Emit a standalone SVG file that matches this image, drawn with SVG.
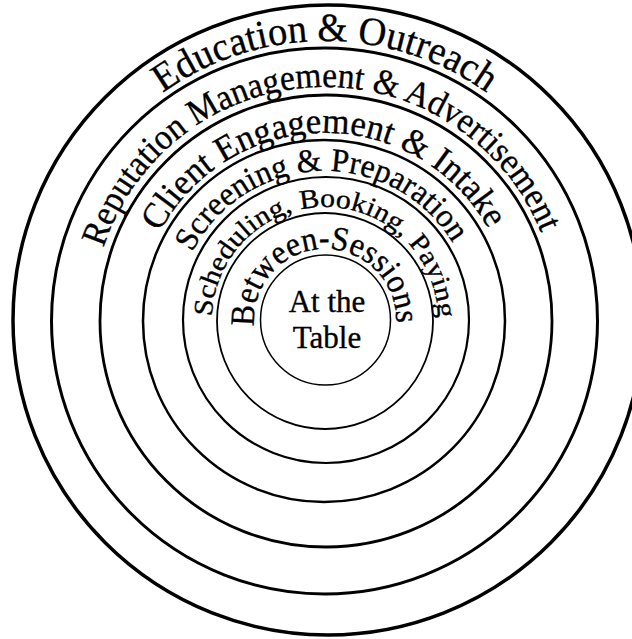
<svg xmlns="http://www.w3.org/2000/svg" xmlns:xlink="http://www.w3.org/1999/xlink" width="632" height="639" viewBox="0 0 632 639">
<style>
.ring{fill:none;stroke:#000}
.lbl{font-family:"Liberation Serif","Times New Roman",serif;fill:#000;stroke:#000;stroke-width:0.35px}
</style>
<defs>
<path id="p1" d="M325,599 A279,279 0 0 1 325,41 A279,279 0 0 1 325,599"/>
<path id="p2" d="M325,553 A233,233 0 0 1 325,87 A233,233 0 0 1 325,553"/>
<path id="p3" d="M325,507 A187,187 0 0 1 325,133 A187,187 0 0 1 325,507"/>
<path id="p4" d="M325,469 A149,149 0 0 1 325,171 A149,149 0 0 1 325,469"/>
<path id="p5" d="M325,433 A113,113 0 0 1 325,207 A113,113 0 0 1 325,433"/>
<path id="p6" d="M325,391 A71,71 0 0 1 325,249 A71,71 0 0 1 325,391"/>
</defs>
<rect width="632" height="639" fill="#fff"/>
<g id="ring7"><circle class="ring" cx="328" cy="320" r="315" stroke-width="3.5"/>
<text class="lbl" style="font-size:40px"><textPath xlink:href="#p1" href="#p1" startOffset="703" textLength="346" lengthAdjust="spacingAndGlyphs">Education &amp; Outreach</textPath></text></g>
<g id="ring6"><circle class="ring" cx="324.5" cy="321" r="273" stroke-width="3"/>
<text class="lbl" style="font-size:36px"><textPath xlink:href="#p2" href="#p2" startOffset="439" textLength="569" lengthAdjust="spacingAndGlyphs">Reputation Management &amp; Advertisement</textPath></text></g>
<g id="ring5"><circle class="ring" cx="326" cy="321" r="226" stroke-width="2.8"/>
<text class="lbl" style="font-size:36px"><textPath xlink:href="#p3" href="#p3" startOffset="385" textLength="401" lengthAdjust="spacingAndGlyphs">Client Engagement &amp; Intake</textPath></text></g>
<g id="ring4"><circle class="ring" cx="324" cy="321" r="181" stroke-width="2.5"/>
<text class="lbl" style="font-size:33px"><textPath xlink:href="#p4" href="#p4" startOffset="304" textLength="317" lengthAdjust="spacingAndGlyphs">Screening &amp; Preparation</textPath></text></g>
<g id="ring3"><circle class="ring" cx="326" cy="320" r="143" stroke-width="2.2"/>
<text class="lbl" style="font-size:27px"><textPath xlink:href="#p5" href="#p5" startOffset="181" textLength="349" lengthAdjust="spacingAndGlyphs">Scheduling, Booking, Paying</textPath></text></g>
<g id="ring2"><circle class="ring" cx="325" cy="321" r="108" stroke-width="1.8"/>
<text class="lbl" style="font-size:34px"><textPath xlink:href="#p6" href="#p6" startOffset="105" textLength="232" lengthAdjust="spacingAndGlyphs">Between-Sessions</textPath></text></g>
<g id="ring1"><circle class="ring" cx="325.5" cy="320" r="65" stroke-width="1.5" stroke="#333"/>
<text class="lbl" font-size="31" text-anchor="middle"><tspan x="327" y="312">At the</tspan><tspan x="327" y="348">Table</tspan></text></g>
</svg>
